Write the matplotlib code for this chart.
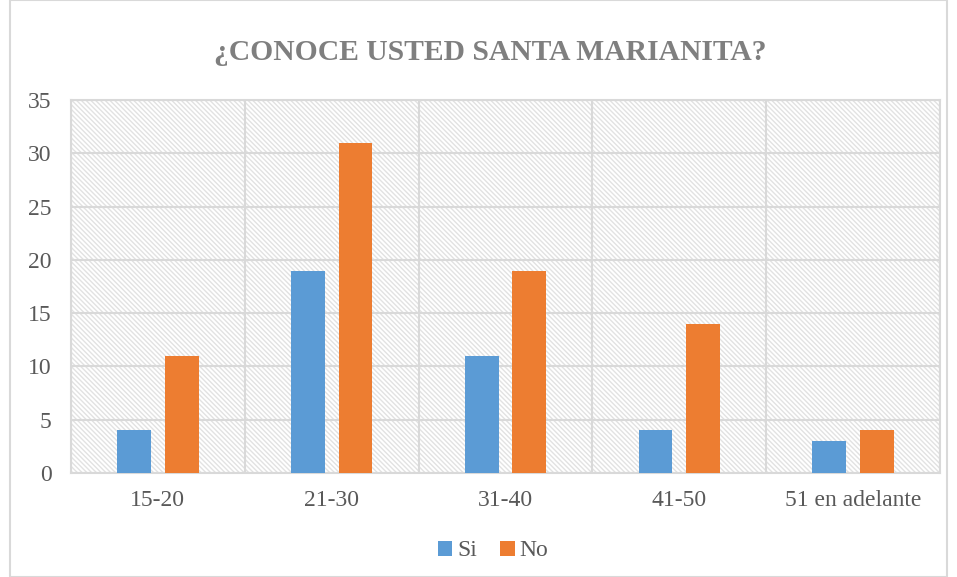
import numpy as np
import matplotlib.pyplot as plt
from matplotlib.patches import Rectangle

plt.rcParams['font.family'] = 'serif'
plt.rcParams['font.serif'] = ['Liberation Serif', 'DejaVu Serif']
plt.rcParams['hatch.linewidth'] = 1.0

categories = ["15-20", "21-30", "31-40", "41-50", "51 en adelante"]
si = [4, 19, 11, 4, 3]
no = [11, 31, 19, 14, 4]

fig = plt.figure(figsize=(9.57, 5.77), dpi=100)
ax = fig.add_axes([71 / 957, 1 - 473 / 577, 869 / 957, 373 / 577])

# figure border
fig.patches.append(Rectangle((10 / 957, 0), 1 - 20 / 957, 1, transform=fig.transFigure,
                             fill=False, edgecolor="#d9d9d9", linewidth=1.5))

# hatched plot background
ax.add_patch(Rectangle((0, 0), 1, 1, transform=ax.transAxes, facecolor="white",
                       edgecolor="#e2e2e2", hatch="\\" * 7, linewidth=0, zorder=0))

x = np.arange(len(categories))
w = 0.195
ax.bar(x - 0.137, si, w, color="#5b9bd5", label="Si", zorder=3)
ax.bar(x + 0.137, no, w, color="#ed7d31", label="No", zorder=3)

ax.set_xlim(-0.5, len(categories) - 0.5)
ax.set_ylim(0, 35)
ax.set_yticks(range(0, 36, 5))
ax.set_xticks(x)
ax.set_xticklabels(categories)
ax.set_xticks(np.arange(-0.5, len(categories), 1), minor=True)
ax.grid(axis="y", color="#d9d9d9", linewidth=1.5, zorder=1)
ax.grid(axis="x", which="minor", color="#d9d9d9", linewidth=1.5, zorder=1)
ax.tick_params(axis="both", which="both", length=0, labelsize=17, colors="#595959")
ax.tick_params(axis="x", pad=12)
ax.tick_params(axis="y", pad=14)
for s in ax.spines.values():
    s.set_color("#d9d9d9")
    s.set_linewidth(1.5)

fig.text(490 / 957, 1 - 52 / 577, "¿CONOCE USTED SANTA MARIANITA?", ha="center", va="center",
         fontsize=21.3, fontweight="bold", color="#7f7f7f")

fig.legend(loc="center", bbox_to_anchor=(493 / 957, 1 - 551 / 577), ncol=2, frameon=False,
           fontsize=17, handlelength=0.6, handleheight=0.6, handletextpad=0.2,
           columnspacing=1.0, labelcolor="#595959")

fig.savefig("out.png", dpi=100)
